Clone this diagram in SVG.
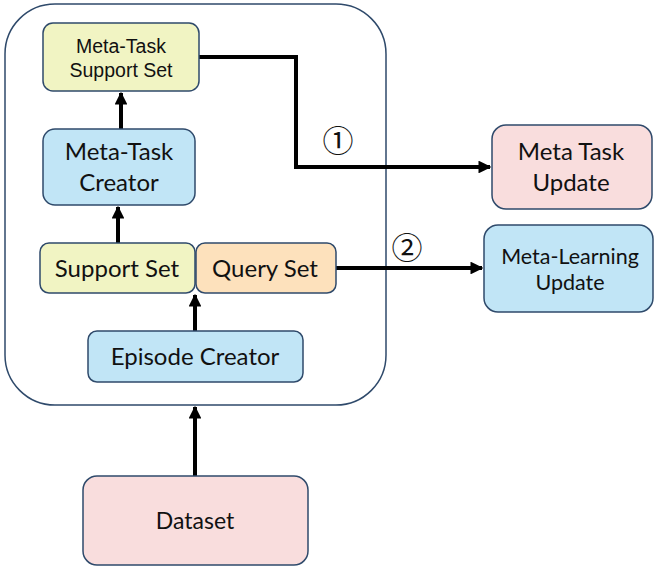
<svg xmlns="http://www.w3.org/2000/svg" width="654" height="566" viewBox="0 0 654 566">
<style>
.n{stroke:#2f4a6b;stroke-width:1.5}
.y{fill:#f1f4c3}.b{fill:#c1e5f6}.p{fill:#f9dddd}.o{fill:#fde1bc}
.t{font-family:Lato,"Liberation Sans",sans-serif;fill:#111;text-anchor:middle}
.a{font-family:"Liberation Sans",Arial,sans-serif;fill:#111;text-anchor:middle}
.c{stroke:#000;stroke-width:4;fill:none}
.num{font-family:"Noto Sans CJK JP",sans-serif;fill:#111;text-anchor:middle}
</style>
<defs>
<marker id="ar" viewBox="0 0 10 10" refX="9" refY="5" markerWidth="3.2" markerHeight="3.2" orient="auto" markerUnits="strokeWidth">
<path d="M0,0L10,5L0,10z" fill="#000"/>
</marker>
</defs>
<rect width="654" height="566" fill="#fff"/>
<g id="container"><rect x="5" y="4" width="381" height="401" rx="50" fill="#fff" class="n"/></g>
<g id="connectors">
<path class="c" d="M199,57H296V167H490" marker-end="url(#ar)"/>
<path class="c" d="M336,268H482" marker-end="url(#ar)"/>
<path class="c" d="M195,331V295" marker-end="url(#ar)"/>
<path class="c" d="M118,243V207" marker-end="url(#ar)"/>
<path class="c" d="M121,129V93" marker-end="url(#ar)"/>
<path class="c" d="M195,476V407" marker-end="url(#ar)"/>
</g>
<g id="label1"><text class="num" x="338" y="152" font-size="31">①</text></g>
<g id="label2"><text class="num" x="407" y="259" font-size="31">②</text></g>
<g id="meta-task-support-set"><rect x="43" y="23" width="156" height="68" rx="10" class="n y"/>
<text class="a" x="121" y="53" font-size="19.5">Meta-Task</text><text class="a" x="121" y="77" font-size="19.5">Support Set</text></g>
<g id="meta-task-creator"><rect x="43" y="129" width="152" height="76" rx="12" class="n b"/>
<text class="t" x="119" y="160" font-size="24">Meta-Task</text><text class="t" x="119" y="191" font-size="24">Creator</text></g>
<g id="support-set"><rect x="40" y="243" width="155" height="50" rx="9" class="n y"/>
<text class="t" x="117" y="277" font-size="24">Support Set</text></g>
<g id="query-set"><rect x="196" y="243" width="140" height="50" rx="9" class="n o"/>
<text class="t" x="265" y="277" font-size="24">Query Set</text></g>
<g id="episode-creator"><rect x="88" y="331" width="215" height="51" rx="9" class="n b"/>
<text class="t" x="195" y="365" font-size="24">Episode Creator</text></g>
<g id="dataset"><rect x="83" y="476" width="225" height="89" rx="14" class="n p"/>
<text class="t" x="195" y="529" font-size="23">Dataset</text></g>
<g id="meta-task-update"><rect x="492" y="125" width="160" height="84" rx="14" class="n p"/>
<text class="t" x="571" y="160" font-size="24">Meta Task</text><text class="t" x="571" y="191" font-size="24">Update</text></g>
<g id="meta-learning-update"><rect x="484" y="225" width="169" height="87" rx="14" class="n b"/>
<text class="t" x="570" y="264" font-size="21.5">Meta-Learning</text><text class="t" x="570" y="290" font-size="21.5">Update</text></g>
</svg>
